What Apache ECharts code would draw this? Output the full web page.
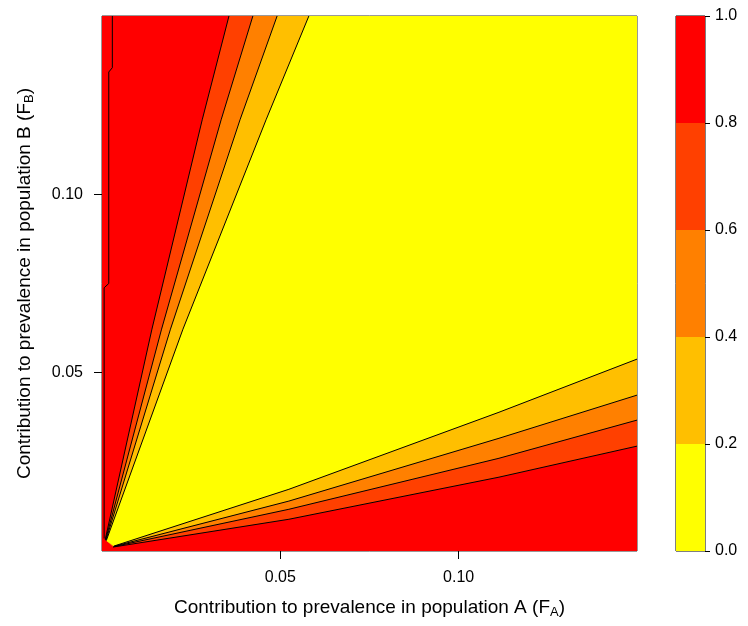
<!DOCTYPE html>
<html><head><meta charset="utf-8">
<script src="https://cdn.jsdelivr.net/npm/echarts@6/dist/echarts.min.js"></script>
<style>html,body{margin:0;padding:0;background:#fff}#c{width:748px;height:626px}</style>
</head><body><div id="c"></div>
<script>
// ---- data ----
const xRange = [0, 0.15];
const yRange = [0, 0.15];
const xTicks = [0.05, 0.10];
const xTickLabels = ['0.05', '0.10'];
const yTicks = [0.05, 0.10];
const yTickLabels = ['0.05', '0.10'];
const levels = [0, 0.2, 0.4, 0.6, 0.8, 1.0];
const levelLabels = ['0.0', '0.2', '0.4', '0.6', '0.8', '1.0'];
const bandColors = ['#FFFF00', '#FFBF00', '#FF8000', '#FF4000', '#FF0000'];
const xTitle = 'Contribution to prevalence in population A (F{sub|A})';
const yTitle = 'Contribution to prevalence in population B (F{sub|B})';

// contour boundaries of the upper-left wedge (apex -> top edge)
const upper08 = [[0.0009, 0.0032], [0.0140, 0.0622], [0.0281, 0.1209], [0.0356, 0.15]];
const upper06 = [[0.0010, 0.0031], [0.0167, 0.0622], [0.0334, 0.1209], [0.0423, 0.15]];
const upper04 = [[0.0011, 0.0030], [0.0192, 0.0622], [0.0387, 0.1209], [0.0491, 0.15]];
const upper02 = [[0.0012, 0.0029], [0.0227, 0.0622], [0.0460, 0.1209], [0.0580, 0.15]];
// contour boundaries of the lower-right wedge (apex -> right edge)
const lower08 = [[0.0031, 0.0011], [0.0524, 0.0089], [0.1113, 0.0207], [0.15, 0.0294]];
const lower06 = [[0.0032, 0.0012], [0.0524, 0.0117], [0.1113, 0.0260], [0.15, 0.0367]];
const lower04 = [[0.0033, 0.0013], [0.0524, 0.0140], [0.1113, 0.0316], [0.15, 0.0437]];
const lower02 = [[0.0034, 0.0014], [0.0524, 0.0173], [0.1113, 0.0389], [0.15, 0.0538]];
// isolated contour inside the red region near the left edge
const edgeLine = [[0.0029, 0.15], [0.0029, 0.1355], [0.0019, 0.1343], [0.0019, 0.0750], [0.0006, 0.0738], [0.0006, 0.0035]];

// ---- build ----
const wedges = [
  {upper: upper08, lower: lower08, color: bandColors[3]},
  {upper: upper06, lower: lower06, color: bandColors[2]},
  {upper: upper04, lower: lower04, color: bandColors[1]},
  {upper: upper02, lower: lower02, color: bandColors[0]}
];
const polys = [{
  color: bandColors[4],
  pts: [[xRange[0], yRange[0]], [xRange[1], yRange[0]], [xRange[1], yRange[1]], [xRange[0], yRange[1]]]
}];
wedges.forEach(w => {
  polys.push({color: w.color, pts: w.upper.concat([[xRange[1], yRange[1]]], w.lower.slice().reverse())});
});
const contourLines = [upper08, upper06, upper04, upper02, lower08, lower06, lower04, lower02, edgeLine];

const FONT = 'Liberation Sans, Arial, Helvetica, sans-serif';
const labelOf = (ticks, labels) => v => {
  const i = ticks.findIndex(t => Math.abs(t - v) < 1e-9);
  return i >= 0 ? labels[i] : '';
};
const tickStyle = {show: true, inside: false, length: 8, lineStyle: {color: '#000', width: 1}};

const chart = echarts.init(document.getElementById('c'), null, {renderer: 'canvas'});
const option = {
  animation: false,
  backgroundColor: '#fff',
  textStyle: {fontFamily: FONT},
  grid: [
    {left: 102, top: 16, width: 535, height: 535, show: true, borderColor: '#333', borderWidth: 1, backgroundColor: 'transparent'},
    {left: 676, top: 16, width: 29, height: 535, show: true, borderColor: '#000', borderWidth: 1, backgroundColor: 'transparent'}
  ],
  xAxis: [
    {gridIndex: 0, type: 'value', position: 'bottom', min: xRange[0], max: xRange[1], interval: 0.05,
     axisLine: {show: false}, splitLine: {show: false},
     axisTick: Object.assign({customValues: xTicks}, tickStyle),
     axisLabel: {customValues: xTicks, formatter: labelOf(xTicks, xTickLabels), color: '#000', fontSize: 16, margin: 19, fontFamily: FONT},
     name: xTitle, nameLocation: 'middle', nameGap: 45,
     nameTextStyle: {color: '#000', fontSize: 19, fontFamily: FONT,
       rich: {sub: {fontSize: 13, verticalAlign: 'top', padding: [10, 0, 0, 0], fontFamily: FONT, color: '#000'}}}},
    {gridIndex: 0, type: 'value', position: 'top', min: xRange[0], max: xRange[1], interval: 0.05,
     axisLine: {show: false}, splitLine: {show: false},
     axisTick: Object.assign({customValues: xTicks}, tickStyle),
     axisLabel: {show: false}},
    {gridIndex: 1, type: 'category', data: [''], show: false}
  ],
  yAxis: [
    {gridIndex: 0, type: 'value', position: 'left', min: yRange[0], max: yRange[1], interval: 0.05,
     axisLine: {show: false}, splitLine: {show: false},
     axisTick: Object.assign({customValues: yTicks}, tickStyle),
     axisLabel: {customValues: yTicks, formatter: labelOf(yTicks, yTickLabels), color: '#000', fontSize: 16, margin: 19, fontFamily: FONT},
     name: yTitle, nameLocation: 'middle', nameGap: 66,
     nameTextStyle: {color: '#000', fontSize: 19, fontFamily: FONT,
       rich: {sub: {fontSize: 13, verticalAlign: 'top', padding: [10, 0, 0, 0], fontFamily: FONT, color: '#000'}}}},
    {gridIndex: 0, type: 'value', position: 'right', min: yRange[0], max: yRange[1], interval: 0.05,
     axisLine: {show: false}, splitLine: {show: false},
     axisTick: Object.assign({customValues: yTicks}, tickStyle),
     axisLabel: {show: false}},
    {gridIndex: 1, type: 'value', position: 'right', min: levels[0], max: levels[levels.length - 1], interval: 0.2,
     axisLine: {show: false}, splitLine: {show: false},
     axisTick: {show: true, length: 5, lineStyle: {color: '#000'}},
     axisLabel: {formatter: labelOf(levels, levelLabels), color: '#000', fontSize: 16, margin: 10, fontFamily: FONT}}
  ],
  series: [
    {type: 'custom', xAxisIndex: 0, yAxisIndex: 0, z: 1, silent: true, clip: false,
     data: polys.map(() => [0.075, 0.075]),
     renderItem: (params, api) => {
       const p = polys[params.dataIndex];
       return {type: 'polygon', shape: {points: p.pts.map(pt => api.coord(pt))}, style: {fill: p.color}};
     }}
  ].concat(contourLines.map(d => ({
    type: 'line', xAxisIndex: 0, yAxisIndex: 0, z: 3, silent: true, data: d,
    showSymbol: false, symbol: 'none', lineStyle: {color: '#000', width: 1}
  }))).concat(bandColors.map((c, i) => ({
    type: 'bar', xAxisIndex: 2, yAxisIndex: 2, stack: 'cb', barWidth: '100%', silent: true,
    data: [levels[i + 1] - levels[i]], itemStyle: {color: c}
  })))
};
chart.setOption(option);
</script>
</body></html>
